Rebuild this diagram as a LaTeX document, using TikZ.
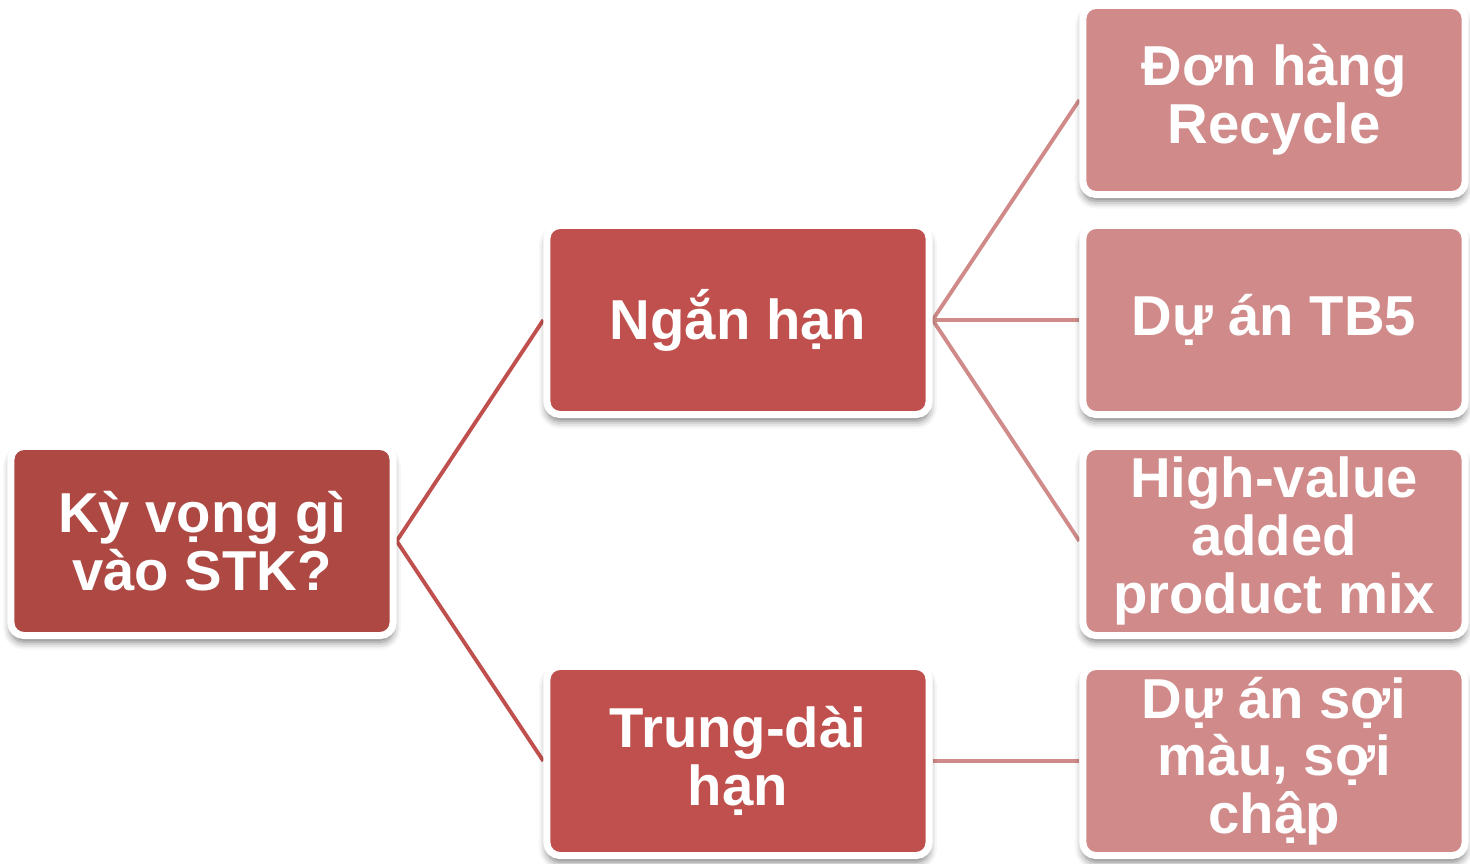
\documentclass[tikz,border=0pt]{standalone}
\usepackage{fontspec}
\setmainfont{Liberation Sans}
\usetikzlibrary{shadows.blur}
\definecolor{rootred}{HTML}{AD4843}
\definecolor{midred}{HTML}{C0504D}
\definecolor{pinkred}{HTML}{D08A89}
\pgfdeclarelayer{background}
\pgfsetlayers{background,main}
\tikzset{
  box/.style={rectangle, rounded corners=0.13cm, draw=white, line width=2pt,
    minimum width=3.82cm, minimum height=1.89cm, inner sep=0pt, align=center,
    text=white, font=\fontsize{16}{16.4}\selectfont\bfseries,
    blur shadow={shadow xshift=0pt, shadow yshift=-1.8pt, shadow blur radius=2.2pt, shadow opacity=55}},
  rootbox/.style={box, fill=rootred},
  midbox/.style={box, fill=midred},
  leafbox/.style={box, fill=pinkred},
  midlink/.style={draw=midred, line width=1.1pt},
  leaflink/.style={draw=pinkred, line width=1.1pt},
}
\begin{document}
\begin{tikzpicture}[x=0.01cm, y=-0.01cm]
\useasboundingbox (0,0) rectangle (1470,864);
\node[rootbox] (root) at (202,541) {Kỳ vọng gì\\vào STK?};
\node[midbox] (ngan) at (738,320) {Ngắn hạn};
\node[midbox] (trung) at (738,761) {Trung-dài\\hạn};
\node[leafbox] (l1) at (1274,100) {Đơn hàng\\Recycle};
\node[leafbox] (l2) at (1274,320) {Dự án TB5};
\node[leafbox] (l3) at (1274,541) {High-value\\added\\product mix};
\node[leafbox] (l4) at (1274,761) {Dự án sợi\\màu, sợi\\chập};
\begin{pgfonlayer}{background}
\draw[midlink] (root.east) -- (ngan.west);
\draw[midlink] (root.east) -- (trung.west);
\draw[leaflink] (ngan.east) -- (l1.west);
\draw[leaflink] (ngan.east) -- (l2.west);
\draw[leaflink] (ngan.east) -- (l3.west);
\draw[leaflink] (trung.east) -- (l4.west);
\end{pgfonlayer}
\end{tikzpicture}
\end{document}
